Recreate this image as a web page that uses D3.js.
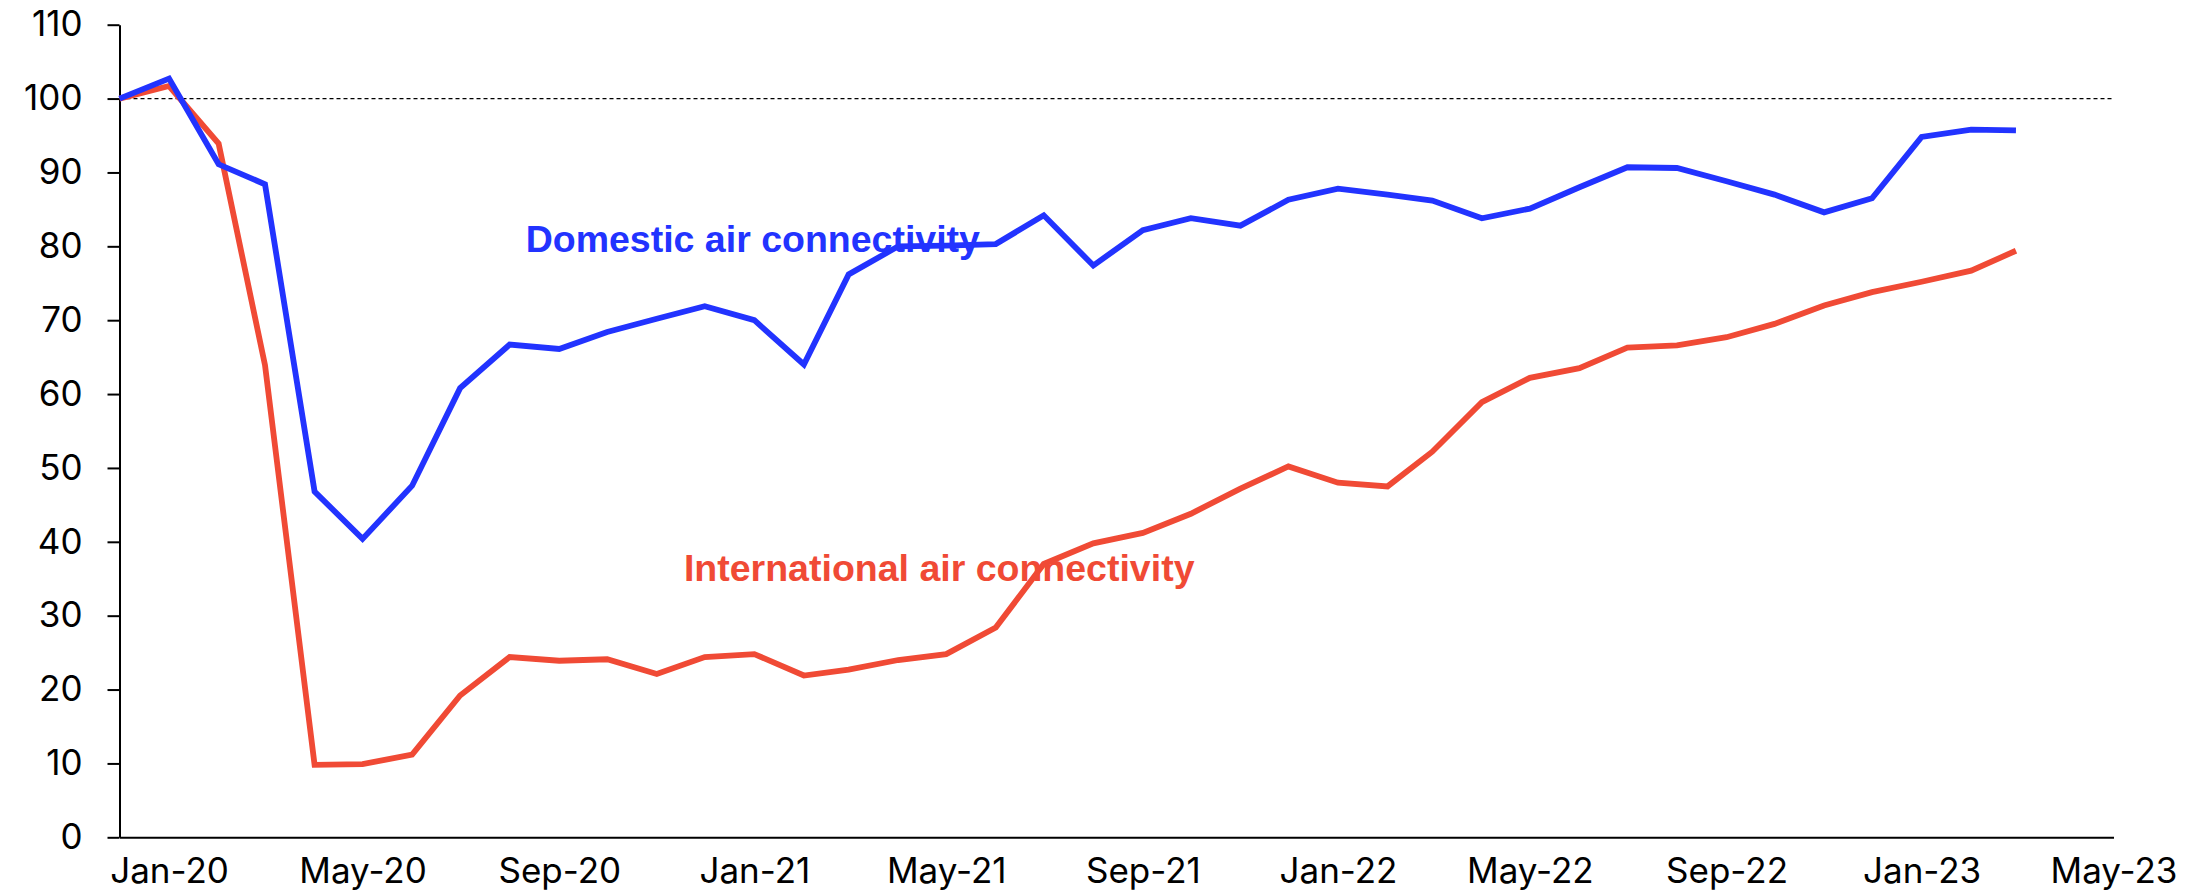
<!DOCTYPE html>
<html>
<head>
<meta charset="utf-8">
<script src="https://cdn.jsdelivr.net/npm/d3@7"></script>
<style>
  body { margin: 0; background: #fff; }
  svg { display: block; }
</style>
</head>
<body>
<svg id="drawing_region"></svg>
<script>
// monthly index values (Dec-19 = 100)
const months = [
  'Dec-19','Jan-20','Feb-20','Mar-20','Apr-20','May-20','Jun-20','Jul-20','Aug-20','Sep-20',
  'Oct-20','Nov-20','Dec-20','Jan-21','Feb-21','Mar-21','Apr-21','May-21','Jun-21','Jul-21',
  'Aug-21','Sep-21','Oct-21','Nov-21','Dec-21','Jan-22','Feb-22','Mar-22','Apr-22','May-22',
  'Jun-22','Jul-22','Aug-22','Sep-22','Oct-22','Nov-22','Dec-22','Jan-23','Feb-23','Mar-23'
];
const domestic = [
  100, 102.7, 91.1, 88.4, 46.8, 40.4, 47.6, 60.8, 66.7, 66.1,
  68.4, 70.2, 71.9, 70.0, 64.0, 76.2, 80.0, 80.1, 80.3, 84.2,
  77.4, 82.2, 83.8, 82.8, 86.3, 87.8, 87.0, 86.2, 83.8, 85.1,
  88.0, 90.7, 90.6, 88.8, 87.0, 84.6, 86.5, 94.8, 95.8, 95.7
];
const international = [
  100, 101.7, 93.9, 63.9, 9.8, 9.9, 11.2, 19.2, 24.4, 23.9,
  24.1, 22.1, 24.4, 24.8, 21.9, 22.7, 24.0, 24.8, 28.4, 37.0,
  39.8, 41.2, 43.8, 47.2, 50.2, 48.0, 47.5, 52.2, 58.9, 62.2,
  63.5, 66.3, 66.6, 67.7, 69.5, 72.0, 73.8, 75.2, 76.7, 79.4
];
const yTicks = [0, 10, 20, 30, 40, 50, 60, 70, 80, 90, 100, 110];
const xTickLabels = ['Jan-20','May-20','Sep-20','Jan-21','May-21','Sep-21','Jan-22','May-22','Sep-22','Jan-23','May-23'];
const xEnd = 'May-23';
const baseline = 100;

// series labels: [text, anchor month, anchor value]
const seriesNames = ['Domestic air connectivity', 'International air connectivity'];
const labelDates = ['2020-08-11', '2020-11-18'];
const labelValues = [79.2, 34.7];

const W = 2192, H = 890;
const margin = { top: 24.7, right: 78.5, bottom: 52.7, left: 119.5 };
const width = W - margin.left - margin.right;
const height = H - margin.top - margin.bottom;

const parse = d3.timeParse('%b-%y');
const parseDay = d3.timeParse('%Y-%m-%d');
const fmt = d3.timeFormat('%b-%y');

const blue = '#2233ff';
const red = '#f04a35';
const font = 'Inter, "Liberation Sans", Arial, sans-serif';

const svg = d3.select('#drawing_region')
    .attr('width', W)
    .attr('height', H);

const g = svg.append('g')
    .attr('transform', `translate(${margin.left},${margin.top})`);

const x = d3.scaleTime()
    .domain([parse(months[0]), parse(xEnd)])
    .range([0, width]);

const y = d3.scaleLinear()
    .domain([0, 110])
    .range([height, 0]);

// y axis
const yAxis = g.append('g')
    .call(d3.axisLeft(y).tickValues(yTicks).tickSize(12).tickSizeOuter(0).tickPadding(25));
yAxis.select('.domain').attr('stroke', '#000').attr('stroke-width', 2);
yAxis.selectAll('.tick line').attr('stroke', '#000').attr('stroke-width', 2);
yAxis.selectAll('text')
    .attr('font-family', font)
    .attr('font-size', 35)
    .attr('fill', '#000');

// x axis
const xAxis = g.append('g')
    .attr('transform', `translate(0,${height})`)
    .call(d3.axisBottom(x)
        .tickValues(xTickLabels.map(parse))
        .tickFormat(fmt)
        .tickSize(0)
        .tickSizeOuter(0)
        .tickPadding(21));
xAxis.select('.domain').attr('stroke', '#000').attr('stroke-width', 2);
xAxis.selectAll('text')
    .attr('font-family', font)
    .attr('font-size', 35)
    .attr('fill', '#000');

// 100 reference line
g.append('line')
    .attr('x1', 0)
    .attr('x2', width)
    .attr('y1', y(baseline))
    .attr('y2', y(baseline))
    .attr('stroke', '#000')
    .attr('stroke-width', 1.3)
    .attr('stroke-dasharray', '4,3');

const line = d3.line()
    .x(d => x(parse(d.month)))
    .y(d => y(d.value));

const series = [
    { name: seriesNames[0], color: blue, values: domestic },
    { name: seriesNames[1], color: red, values: international }
];

// draw international first so domestic sits on top at the start
[series[1], series[0]].forEach(s => {
    g.append('path')
        .datum(months.map((m, i) => ({ month: m, value: s.values[i] })))
        .attr('d', line)
        .attr('fill', 'none')
        .attr('stroke', s.color)
        .attr('stroke-width', 5.8)
        .attr('stroke-linejoin', 'miter');
});

series.forEach((s, i) => {
    g.append('text')
        .attr('x', x(parseDay(labelDates[i])))
        .attr('y', y(labelValues[i]))
        .attr('font-family', '"Liberation Sans", Arial, sans-serif')
        .attr('font-weight', 'bold')
        .attr('font-size', 37.5)
        .attr('fill', s.color)
        .text(s.name);
});
</script>
</body>
</html>
